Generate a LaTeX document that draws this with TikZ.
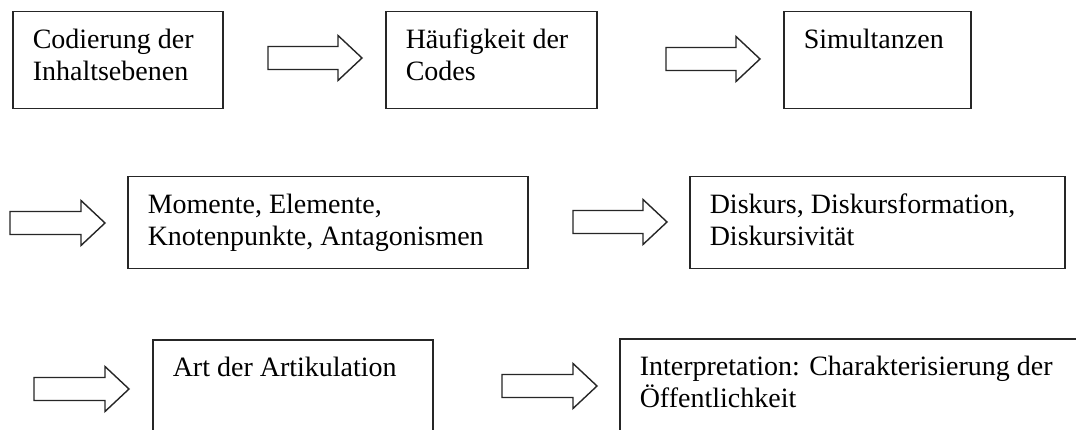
\documentclass[tikz,border=0pt]{standalone}
\usepackage{fontspec}
\setmainfont{Liberation Serif}
\usepackage{tikz}

\newcommand{\stagetext}[3]{\parbox[t][#1][t]{#2}{\raggedright\rule{0pt}{37pt}#3}}

\tikzset{
  stage/.style={draw=black!85,line width=1.5pt,anchor=north west,inner xsep=20pt,inner ysep=0pt,font=\fontsize{28}{32}\selectfont},
  blockarrow/.style={draw=black!85,line width=1.4pt,fill=white,line join=miter}
}

\begin{document}
\begin{tikzpicture}[x=1pt,y=-1pt]
\clip (0,0) rectangle (1076,430);
\fill[white] (0,0) rectangle (1076,430);

% First row
\node[stage] (codierung) at (12,11) {\stagetext{97pt}{170pt}{Codierung der\\Inhaltsebenen}};
\node[stage] (haeufigkeit) at (385,11) {\stagetext{97pt}{171pt}{Häufigkeit der\\Codes}};
\node[stage] (simultanzen) at (783,11) {\stagetext{97pt}{147pt}{Simultanzen}};

% Second row
\node[stage] (momente) at (127,176) {\stagetext{92pt}{360pt}{Momente, Elemente,\\Knotenpunkte, Antagonismen}};
\node[stage] (diskurs) at (689,176) {\stagetext{92pt}{335pt}{Diskurs, Diskursformation,\\Diskursivität}};

% Third row
\node[stage] (artikulation) at (152,339) {\stagetext{110pt}{240pt}{Art der Artikulation}};
\node[stage] (interpretation) at (619,338) {\stagetext{110pt}{460pt}{Interpretation: Charakterisierung der\\Öffentlichkeit}};

% Block arrows
\draw[blockarrow] (268,46.5) -- ++(70,0) -- ++(0,-11) -- ++(24,22.5) -- ++(-24,22.5) -- ++(0,-11) -- ++(-70,0) -- cycle;
\draw[blockarrow] (666,47.5) -- ++(70,0) -- ++(0,-11) -- ++(24,22.5) -- ++(-24,22.5) -- ++(0,-11) -- ++(-70,0) -- cycle;
\draw[blockarrow] (10,211.5) -- ++(71,0) -- ++(0,-11) -- ++(24,22.5) -- ++(-24,22.5) -- ++(0,-11) -- ++(-71,0) -- cycle;
\draw[blockarrow] (573,210.5) -- ++(70,0) -- ++(0,-11) -- ++(24,22.5) -- ++(-24,22.5) -- ++(0,-11) -- ++(-70,0) -- cycle;
\draw[blockarrow] (34,377.5) -- ++(71,0) -- ++(0,-11) -- ++(24,22.5) -- ++(-24,22.5) -- ++(0,-11) -- ++(-71,0) -- cycle;
\draw[blockarrow] (502,374.5) -- ++(71,0) -- ++(0,-11) -- ++(24,22.5) -- ++(-24,22.5) -- ++(0,-11) -- ++(-71,0) -- cycle;
\end{tikzpicture}
\end{document}
